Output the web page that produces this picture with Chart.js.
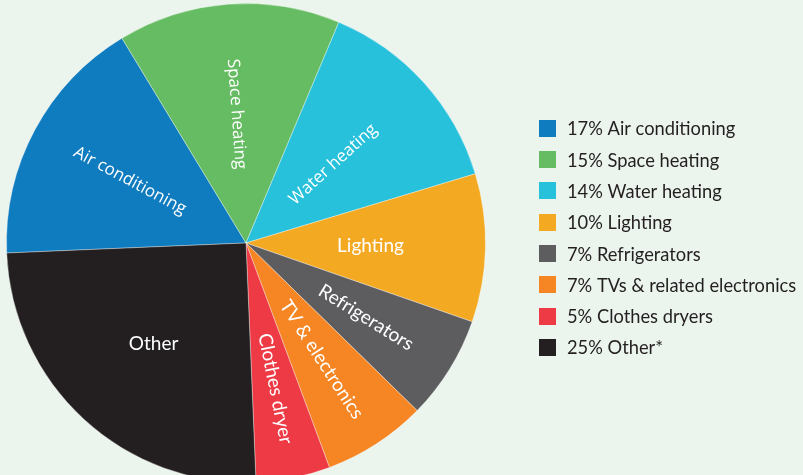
<!DOCTYPE html>
<html><head><meta charset="utf-8">
<style>html,body{margin:0;padding:0;background:#ebf4ed;overflow:hidden;width:803px;height:475px}canvas{display:block}</style>
<script src="https://cdn.jsdelivr.net/npm/chart.js"></script>
</head><body>
<canvas id="c" width="803" height="483"></canvas>
<script>
// ---- data ----
const categories = ['Air conditioning', 'Space heating', 'Water heating', 'Lighting', 'Refrigerators', 'TVs & related electronics', 'Clothes dryers', 'Other*'];
const sliceLabels = ['Air conditioning', 'Space heating', 'Water heating', 'Lighting', 'Refrigerators', 'TV & electronics', 'Clothes dryer', 'Other'];
const shares = [17, 15, 14, 10, 7, 7, 5, 25];

// ---- style ----
const colors = ['#0f7cc0', '#66bc62', '#27c1dc', '#f3a922', '#5d5c5f', '#f58623', '#ee3a45', '#231f20'];
const labelRadius = [0.55, 0.54, 0.49, 0.52, 0.59, 0.58, 0.62, 0.57];
const labelUpright = [false, false, false, true, false, false, false, true];
const labelFonts = ['17px "Open Sans"', '17px "Open Sans"', '17px "Open Sans"', '19px Lato', '19px Lato', '19px Lato', '19px Lato', '19px Lato'];

const sliceLabelPlugin = {
  id: 'sliceLabels',
  afterDatasetsDraw(chart) {
    const ctx = chart.ctx;
    const meta = chart.getDatasetMeta(0);
    meta.data.forEach((arc, i) => {
      const p = arc.getProps(['x', 'y', 'startAngle', 'endAngle', 'outerRadius'], true);
      const mid = (p.startAngle + p.endAngle) / 2;
      const r = p.outerRadius * labelRadius[i];
      const px = p.x + Math.cos(mid) * r;
      const py = p.y + Math.sin(mid) * r;
      let a = Math.atan2(Math.sin(mid), Math.cos(mid));
      if (a > Math.PI / 2) a -= Math.PI;
      else if (a < -Math.PI / 2) a += Math.PI;
      if (labelUpright[i]) a = 0;
      ctx.save();
      ctx.translate(px, py);
      ctx.rotate(a);
      ctx.font = labelFonts[i];
      ctx.fillStyle = '#ffffff';
      ctx.textAlign = 'center';
      ctx.textBaseline = 'middle';
      ctx.fillText(sliceLabels[i], 0, 0);
      ctx.restore();
    });
  }
};

const legendPlugin = {
  id: 'sideLegend',
  afterDraw(chart) {
    const ctx = chart.ctx;
    const ds = chart.data.datasets[0];
    const x0 = 539, y0 = 128.3, step = 31.3, box = 17;
    chart.data.labels.forEach((lab, i) => {
      const cy = y0 + i * step;
      ctx.save();
      ctx.fillStyle = ds.backgroundColor[i];
      ctx.fillRect(x0, Math.round(cy - box / 2), box, box);
      ctx.fillStyle = '#231f20';
      ctx.font = '18.3px Lato';
      ctx.textAlign = 'left';
      ctx.textBaseline = 'alphabetic';
      ctx.fillText(ds.data[i] + '% ' + lab, 567, cy + 7);
      ctx.restore();
    });
  }
};

new Chart(document.getElementById('c'), {
  type: 'pie',
  data: {
    labels: categories,
    datasets: [{
      data: shares,
      backgroundColor: colors,
      borderColor: 'rgba(255,255,255,0.35)',
      borderWidth: 1
    }]
  },
  options: {
    responsive: false,
    animation: false,
    rotation: 267.6,
    layout: { padding: { left: 6, right: 317, top: 3, bottom: 0 } },
    plugins: { legend: { display: false }, tooltip: { enabled: false } }
  },
  plugins: [sliceLabelPlugin, legendPlugin]
});
</script>
</body></html>
